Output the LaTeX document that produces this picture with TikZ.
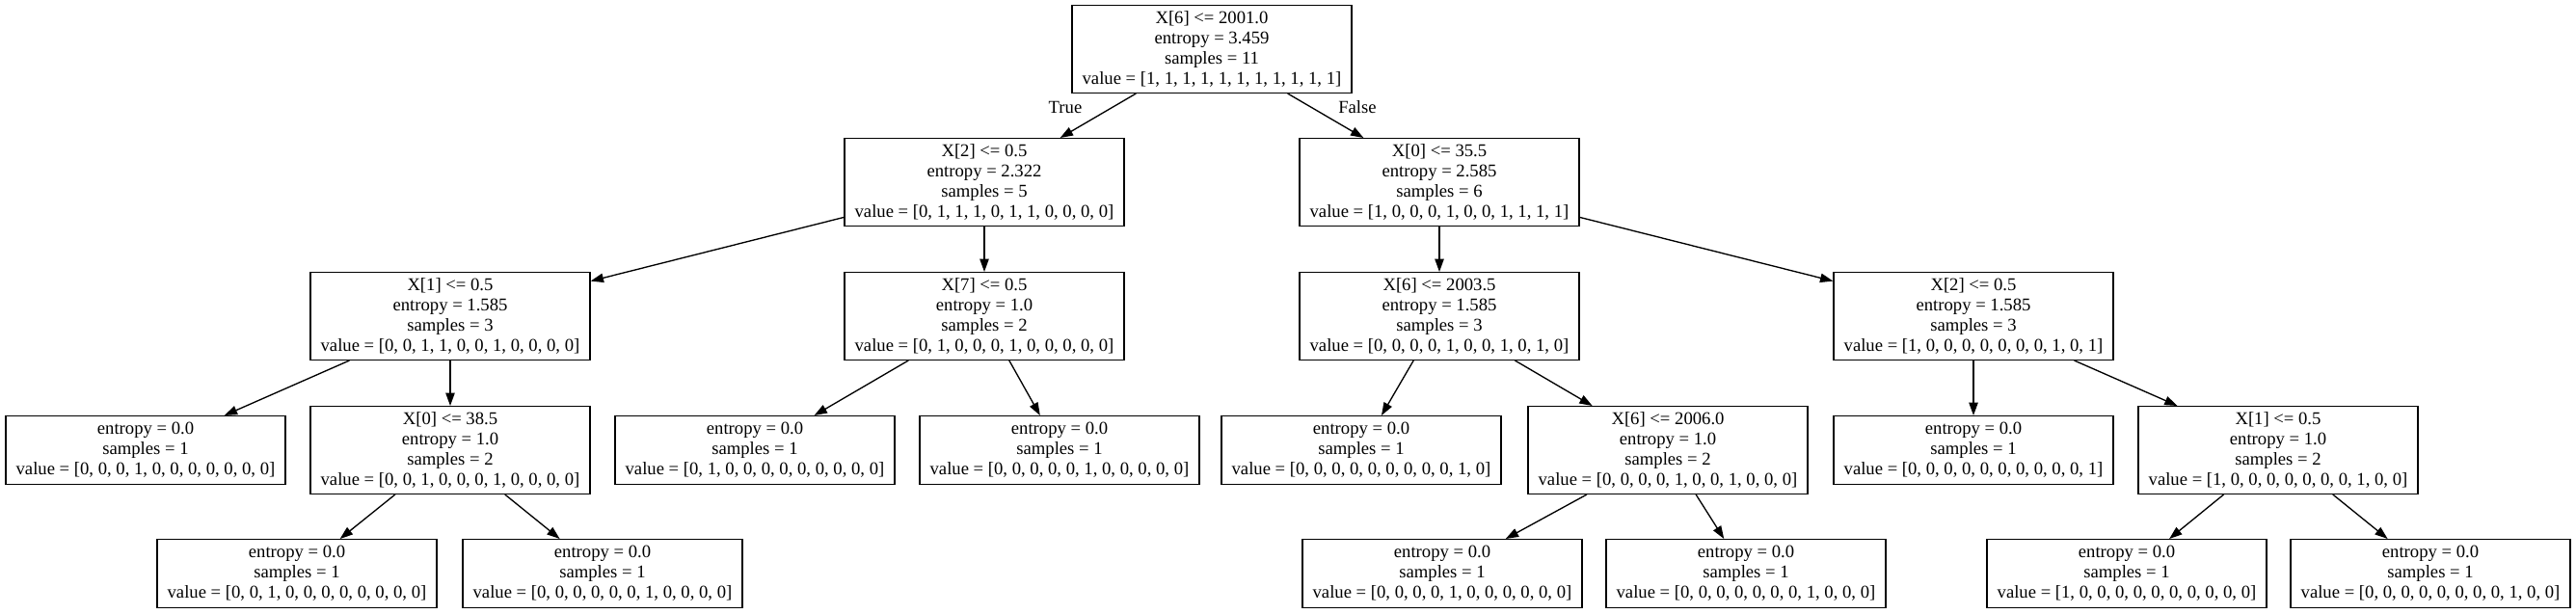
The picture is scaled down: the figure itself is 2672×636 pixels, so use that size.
\documentclass[tikz,border=0pt]{standalone}
\usepackage{fontspec}
\setmainfont{Liberation Serif}
\usetikzlibrary{arrows.meta}
\begin{document}
\begin{tikzpicture}[x=0.75pt,y=-0.75pt,
  box/.style={draw,line width=1pt,align=center,minimum width=217.5pt,inner sep=0pt,
    font=\fontsize{14pt}{15.75pt}\selectfont},
  split/.style={box,minimum height=68pt},
  leaf/.style={box,minimum height=53pt},
  arr/.style={line width=1pt,-{Triangle[length=10pt,width=7pt]}},
  lbl/.style={font=\fontsize{14pt}{15.75pt}\selectfont,inner sep=0pt}]
\useasboundingbox (0,0) rectangle (2672,636);
% level 0
\node[split] (root) at (1257,51) {X[6] <= 2001.0\\entropy = 3.459\\samples = 11\\value = [1, 1, 1, 1, 1, 1, 1, 1, 1, 1, 1]};
% level 1
\node[split] (a) at (1021,189) {X[2] <= 0.5\\entropy = 2.322\\samples = 5\\value = [0, 1, 1, 1, 0, 1, 1, 0, 0, 0, 0]};
\node[split] (b) at (1493,189) {X[0] <= 35.5\\entropy = 2.585\\samples = 6\\value = [1, 0, 0, 0, 1, 0, 0, 1, 1, 1, 1]};
% level 2
\node[split] (a1) at (467,328) {X[1] <= 0.5\\entropy = 1.585\\samples = 3\\value = [0, 0, 1, 1, 0, 0, 1, 0, 0, 0, 0]};
\node[split] (a2) at (1021,328) {X[7] <= 0.5\\entropy = 1.0\\samples = 2\\value = [0, 1, 0, 0, 0, 1, 0, 0, 0, 0, 0]};
\node[split] (b1) at (1493,328) {X[6] <= 2003.5\\entropy = 1.585\\samples = 3\\value = [0, 0, 0, 0, 1, 0, 0, 1, 0, 1, 0]};
\node[split] (b2) at (2047,328) {X[2] <= 0.5\\entropy = 1.585\\samples = 3\\value = [1, 0, 0, 0, 0, 0, 0, 0, 1, 0, 1]};
% level 3
\node[leaf] (a1l) at (151,467) {entropy = 0.0\\samples = 1\\value = [0, 0, 0, 1, 0, 0, 0, 0, 0, 0, 0]};
\node[split] (a1r) at (467,467) {X[0] <= 38.5\\entropy = 1.0\\samples = 2\\value = [0, 0, 1, 0, 0, 0, 1, 0, 0, 0, 0]};
\node[leaf] (a2l) at (783,467) {entropy = 0.0\\samples = 1\\value = [0, 1, 0, 0, 0, 0, 0, 0, 0, 0, 0]};
\node[leaf] (a2r) at (1099,467) {entropy = 0.0\\samples = 1\\value = [0, 0, 0, 0, 0, 1, 0, 0, 0, 0, 0]};
\node[leaf] (b1l) at (1412,467) {entropy = 0.0\\samples = 1\\value = [0, 0, 0, 0, 0, 0, 0, 0, 0, 1, 0]};
\node[split] (b1r) at (1730,467) {X[6] <= 2006.0\\entropy = 1.0\\samples = 2\\value = [0, 0, 0, 0, 1, 0, 0, 1, 0, 0, 0]};
\node[leaf] (b2l) at (2047,467) {entropy = 0.0\\samples = 1\\value = [0, 0, 0, 0, 0, 0, 0, 0, 0, 0, 1]};
\node[split] (b2r) at (2363,467) {X[1] <= 0.5\\entropy = 1.0\\samples = 2\\value = [1, 0, 0, 0, 0, 0, 0, 0, 1, 0, 0]};
% level 4
\node[leaf] (a1rl) at (308,595) {entropy = 0.0\\samples = 1\\value = [0, 0, 1, 0, 0, 0, 0, 0, 0, 0, 0]};
\node[leaf] (a1rr) at (625,595) {entropy = 0.0\\samples = 1\\value = [0, 0, 0, 0, 0, 0, 1, 0, 0, 0, 0]};
\node[leaf] (b1rl) at (1496,595) {entropy = 0.0\\samples = 1\\value = [0, 0, 0, 0, 1, 0, 0, 0, 0, 0, 0]};
\node[leaf] (b1rr) at (1811,595) {entropy = 0.0\\samples = 1\\value = [0, 0, 0, 0, 0, 0, 0, 1, 0, 0, 0]};
\node[leaf] (b2rl) at (2206,595) {entropy = 0.0\\samples = 1\\value = [1, 0, 0, 0, 0, 0, 0, 0, 0, 0, 0]};
\node[leaf] (b2rr) at (2521,595) {entropy = 0.0\\samples = 1\\value = [0, 0, 0, 0, 0, 0, 0, 0, 1, 0, 0]};
% edges
\draw[arr] (root) -- (a);
\draw[arr] (root) -- (b);
\node[lbl] (ltrue) at (1105,111) {True};
\node[lbl] (lfalse) at (1408,111) {False};
\draw[arr] (a) -- (a1);
\draw[arr] (a) -- (a2);
\draw[arr] (b) -- (b1);
\draw[arr] (b) -- (b2);
\draw[arr] (a1) -- (a1l);
\draw[arr] (a1) -- (a1r);
\draw[arr] (a2) -- (a2l);
\draw[arr] (a2) -- (a2r);
\draw[arr] (b1) -- (b1l);
\draw[arr] (b1) -- (b1r);
\draw[arr] (b2) -- (b2l);
\draw[arr] (b2) -- (b2r);
\draw[arr] (a1r) -- (a1rl);
\draw[arr] (a1r) -- (a1rr);
\draw[arr] (b1r) -- (b1rl);
\draw[arr] (b1r) -- (b1rr);
\draw[arr] (b2r) -- (b2rl);
\draw[arr] (b2r) -- (b2rr);
\end{tikzpicture}
\end{document}
